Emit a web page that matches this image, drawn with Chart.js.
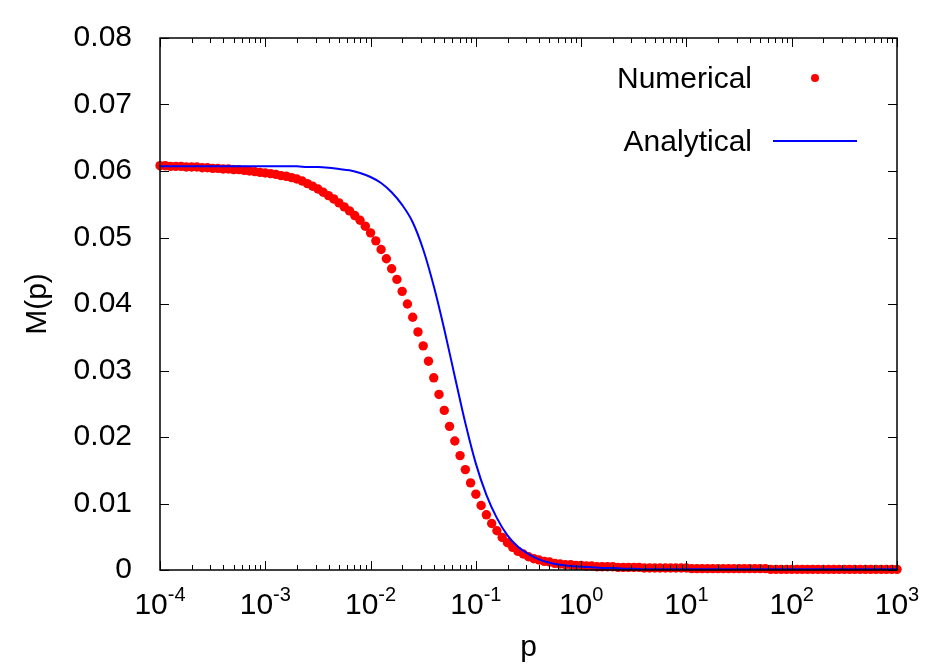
<!DOCTYPE html>
<html>
<head>
<meta charset="utf-8">
<script src="https://cdn.jsdelivr.net/npm/chart.js@4.4.0/dist/chart.umd.min.js"></script>
<style>
    html, body { margin: 0; padding: 0; background: #fff; }
    #wrap { width: 949px; height: 664px; position: relative; }
</style>
</head>
<body>
<div id="wrap"><canvas id="chart"></canvas></div>
<script>
// ── DATA ──
// sampling grid: log10(p) from -4 in fixed steps
const logStart = -4;
const numStep  = 0.05;
const anaStep  = 0.1;

const numerical = [
    0.0608,0.0608,0.0607,0.0607,0.0607,0.0606,0.0606,0.0606,0.0605,0.0605,
    0.0604,0.0604,0.0603,0.0603,0.0602,0.0602,0.0601,0.0600,0.0599,0.0598,
    0.0597,0.0596,0.0595,0.0593,0.0592,0.0590,0.0588,0.0585,0.0581,0.0577,
    0.0573,0.0568,0.0563,0.0558,0.0552,0.0546,0.0540,0.0533,0.0526,0.0517,
    0.0507,0.0495,0.0482,0.0468,0.0453,0.0437,0.0419,0.0400,0.0380,0.0358,
    0.0337,0.0314,0.0289,0.0264,0.0240,0.0216,0.0194,0.0172,0.0151,0.0131,
    0.0114,0.0097,0.0083,0.0070,0.0059,0.0049,0.0041,0.0034,0.0028,0.0024,
    0.0020,0.0017,0.0015,0.0013,0.0012,0.0010,0.0009,0.0008,0.0008,0.0007,
    0.0007,0.0006,0.0006,0.0005,0.0005,0.0005,0.0005,0.0004,0.0004,0.0004,
    0.0004,0.0004,0.0003,0.0003,0.0003,0.0003,0.0003,0.0003,0.0003,0.0003,
    0.0003,0.0002,0.0002,0.0002,0.0002,0.0002,0.0002,0.0002,0.0002,0.0002,
    0.0002,0.0002,0.0002,0.0002,0.0002,0.0002,0.0001,0.0001,0.0001,0.0001,
    0.0001,0.0001,0.0001,0.0001,0.0001,0.0001,0.0001,0.0001,0.0001,0.0001,
    0.0001,0.0001,0.0001,0.0001,0.0001,0.0001,0.0001,0.0001,0.0001,0.0001,
    0.0001
];

const analytical = [
    0.0607,0.0607,0.0607,0.0607,0.0607,0.0607,0.0607,0.0607,0.0607,0.0607,
    0.0607,0.0607,0.0607,0.0607,0.0606,0.0606,0.0605,0.0603,0.0601,0.0597,
    0.0591,0.0582,0.0568,0.0549,0.0523,0.0482,0.0427,0.0362,0.0291,0.0221,
    0.0160,0.0113,0.0078,0.0052,0.0035,0.0024,0.0016,0.0011,0.0008,0.0006,
    0.0005,0.0004,0.0003,0.0003,0.0002,0.0002,0.0001,0.0001,0.0001,0.0001,
    0.0001,0.0001,0.0001,0.0001,0.0001,0.0001,0.0001,0.0001,0.0001,0.0001,
    0.0001,0.0001,0.0001,0.0001,0.0001,0.0001,0.0001,0.0001,0.0001,0.0001,
    0.0001
];

const xDecades = [-4, -3, -2, -1, 0, 1, 2, 3];
const yTicks   = [0, 0.01, 0.02, 0.03, 0.04, 0.05, 0.06, 0.07, 0.08];
const yLabels  = ['0', '0.01', '0.02', '0.03', '0.04', '0.05', '0.06', '0.07', '0.08'];
const seriesNames = ['Numerical', 'Analytical'];
const xTitle = 'p';
const yTitle = 'M(p)';

// ── STYLE ──
const FONT = "'Liberation Sans', Arial, sans-serif";
const RED  = '#ff0000';
const BLUE = '#0000ff';

const toPoints = (vals, step) => vals.map((v, i) => ({
    x: Math.pow(10, +(logStart + i * step).toFixed(2)),
    y: v
}));

// ── FRAME, TICKS, LABELS, LEGEND ──
const decor = {
    id: 'decor',
    afterDatasetsDraw(chart) {
        const { ctx, chartArea: a, scales: { x, y } } = chart;
        ctx.save();

        // border
        ctx.strokeStyle = '#000';
        ctx.lineWidth = 1.5;
        ctx.strokeRect(a.left, a.top, a.right - a.left, a.bottom - a.top);

        // ticks pointing inward
        ctx.lineWidth = 1;
        const seg = (x1, y1, x2, y2) => {
            ctx.beginPath(); ctx.moveTo(x1, y1); ctx.lineTo(x2, y2); ctx.stroke();
        };
        const last = xDecades[xDecades.length - 1];
        xDecades.forEach(n => {
            for (let m = 1; m < 10; m++) {
                if (n === last && m > 1) break;
                const px = Math.round(x.getPixelForValue(m * Math.pow(10, n))) + 0.5;
                const len = m === 1 ? 9 : 5;
                seg(px, a.bottom, px, a.bottom - len);
                seg(px, a.top, px, a.top + len);
            }
        });
        yTicks.forEach(v => {
            const py = Math.round(y.getPixelForValue(v)) + 0.5;
            seg(a.left, py, a.left + 9, py);
            seg(a.right, py, a.right - 9, py);
        });

        // x tick labels 10^n
        ctx.fillStyle = '#000';
        ctx.textBaseline = 'alphabetic';
        ctx.textAlign = 'left';
        xDecades.forEach(n => {
            const px = x.getPixelForValue(Math.pow(10, n));
            const base = '10', exp = String(n);
            ctx.font = `30px ${FONT}`;
            const wb = ctx.measureText(base).width;
            ctx.font = `20px ${FONT}`;
            const we = ctx.measureText(exp).width;
            const x0 = px - (wb + we) / 2;
            ctx.font = `30px ${FONT}`;
            ctx.fillText(base, x0, 614);
            ctx.font = `20px ${FONT}`;
            ctx.fillText(exp, x0 + wb, 601);
        });

        // axis titles
        ctx.font = `30px ${FONT}`;
        ctx.textAlign = 'center';
        ctx.fillText(xTitle, (a.left + a.right) / 2, 656);
        ctx.save();
        ctx.translate(38, (a.top + a.bottom) / 2);
        ctx.rotate(-Math.PI / 2);
        ctx.textBaseline = 'middle';
        ctx.fillText(yTitle, 0, 0);
        ctx.restore();

        // legend
        ctx.textAlign = 'right';
        ctx.textBaseline = 'alphabetic';
        ctx.fillText(seriesNames[0], 752, 88);
        ctx.fillText(seriesNames[1], 752, 151);
        ctx.fillStyle = RED;
        ctx.beginPath(); ctx.arc(815, 78, 4, 0, Math.PI * 2); ctx.fill();
        ctx.strokeStyle = BLUE;
        ctx.lineWidth = 2;
        seg(773, 141, 857, 141);

        ctx.restore();
    }
};

new Chart(document.getElementById('chart'), {
    type: 'scatter',
    data: {
        datasets: [
            {
                label: seriesNames[1],
                data: toPoints(analytical, anaStep),
                showLine: true,
                borderColor: BLUE,
                borderWidth: 2,
                pointRadius: 0,
                cubicInterpolationMode: 'monotone',
                order: 0
            },
            {
                label: seriesNames[0],
                data: toPoints(numerical, numStep),
                showLine: false,
                backgroundColor: RED,
                borderWidth: 0,
                pointRadius: 4.7,
                pointHoverRadius: 4.7,
                clip: 10,
                order: 1
            }
        ]
    },
    options: {
        responsive: true,
        maintainAspectRatio: false,
        animation: false,
        devicePixelRatio: 1,
        layout: { padding: { top: 38, right: 52, left: 0, bottom: 0 } },
        plugins: { legend: { display: false }, tooltip: { enabled: false } },
        scales: {
            x: {
                type: 'logarithmic',
                min: 1e-4,
                max: 1e3,
                grid: { display: false },
                border: { display: false },
                ticks: { display: false },
                afterFit: s => { s.height = 94; }
            },
            y: {
                min: 0,
                max: 0.08,
                grid: { display: false },
                border: { display: false },
                ticks: {
                    stepSize: 0.01,
                    padding: 20,
                    color: '#000',
                    font: { family: FONT, size: 30 },
                    callback: v => {
                        const k = yTicks.findIndex(t => Math.abs(t - v) < 1e-9);
                        return k >= 0 ? yLabels[k] : '';
                    }
                },
                afterFit: s => { s.width = 160; }
            }
        }
    },
    plugins: [decor]
});
</script>
</body>
</html>
